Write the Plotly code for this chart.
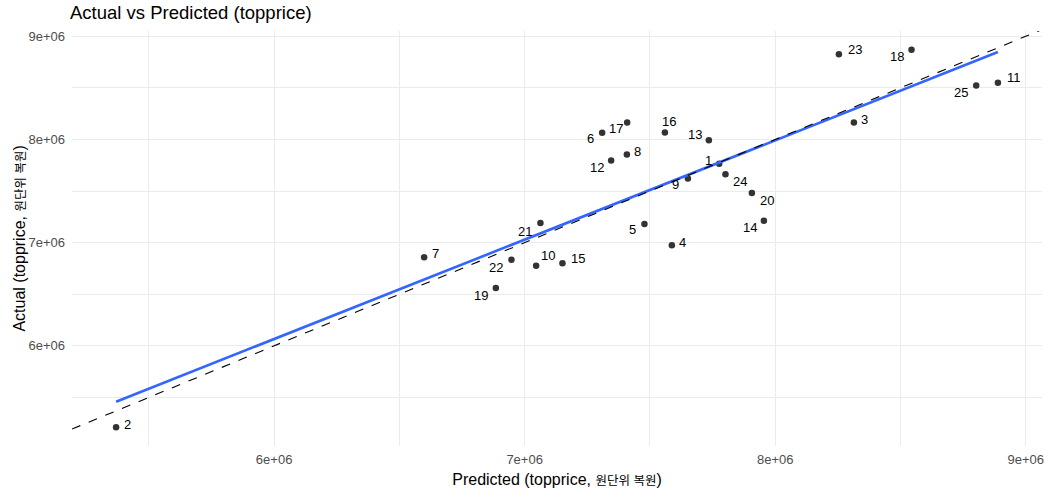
import numpy as np
import plotly.graph_objects as go

# Observation ids and their predicted / actual topprice values
ids = list(range(1, 26))
predicted = [7776500, 5369300, 8314200, 7587600, 7478200, 7309400, 6598800, 7408000,
             7651500, 7045900, 8889000, 7345300, 7735300, 7954900, 7150900, 7559700,
             7409200, 8544100, 6885000, 7907000, 7063100, 6947300, 8254300, 7801600,
             8802400]
actual = [7764800, 5212000, 8164600, 6973800, 7180000, 8064900, 6857600, 7854800,
          7622400, 6777300, 8548900, 7796700, 7993200, 7212900, 6799600, 8067800,
          8164600, 8868400, 6560400, 7480100, 7189700, 6835400, 8825800, 7664100,
          8522800]

# Tick values and labels
tick_vals = [6e6, 7e6, 8e6, 9e6]
tick_text = ["6e+06", "7e+06", "8e+06", "9e+06"]

# Label nudges (pixels) for each id, keeps text clear of points
label_nudge = {
    1: (-11, -3), 2: (11, -3), 3: (11, -3), 4: (11, -3), 5: (-12, 5),
    6: (-12, 6), 7: (11, -4), 8: (11, -3), 9: (-12, 6), 10: (12, -10),
    11: (16, -5), 12: (-14, 7), 13: (-14, -6), 14: (-14, 7), 15: (16, -5),
    16: (4, -11), 17: (-11, 6), 18: (-15, 7), 19: (-15, 7), 20: (15, 7),
    21: (-15, 8), 22: (-15, 8), 23: (16, -5), 24: (15, 7), 25: (-15, 7),
}

px_ = np.array(predicted, dtype=float)
ay_ = np.array(actual, dtype=float)

# ggplot-style 5% expansion of the data ranges
def expand(v, f=0.05):
    lo, hi = v.min(), v.max()
    d = (hi - lo) * f
    return [lo - d, hi + d]

xr = expand(px_)
yr = expand(ay_)

# Linear fit of actual on predicted
slope, intercept = np.polyfit(px_, ay_, 1)
fit_x = np.array([px_.min(), px_.max()])
fit_y = slope * fit_x + intercept

font_family = "Liberation Sans, Arial, Noto Sans CJK KR, sans-serif"
grid_col = "#EBEBEB"

W, H = 1053, 494
M_L, M_R, M_T, M_B = 72, 9, 31, 47
panel_w = W - M_L - M_R

fig = go.Figure()

fig.add_trace(go.Scatter(
    x=px_, y=ay_, mode="markers",
    marker=dict(size=6.5, color="#333333"),
    hoverinfo="skip", showlegend=False,
))

fig.add_trace(go.Scatter(
    x=fit_x, y=fit_y, mode="lines",
    line=dict(color="#3366FF", width=2.6),
    hoverinfo="skip", showlegend=False,
))

# Identity line y = x across the panel
fig.add_trace(go.Scatter(
    x=[xr[0], xr[1]], y=[xr[0], xr[1]], mode="lines",
    line=dict(color="black", width=1.1, dash="dash"),
    hoverinfo="skip", showlegend=False,
))

for i, xv, yv in zip(ids, predicted, actual):
    dx, dy = label_nudge[i]
    fig.add_annotation(
        x=xv, y=yv, xref="x", yref="y", text=str(i), showarrow=False,
        xshift=dx, yshift=-dy,
        font=dict(family=font_family, size=13, color="black"),
    )

# Y-axis title, rotated, placed at the left edge
fig.add_annotation(
    text="Actual (topprice, <span style='font-size:12.5px'>원단위 복원</span>)",
    xref="paper", yref="paper", x=-(M_L - 19) / panel_w, y=0.5,
    xanchor="center", yanchor="middle", textangle=-90, showarrow=False,
    font=dict(family=font_family, size=16, color="black"),
)

axis_common = dict(
    showgrid=True, gridcolor=grid_col, gridwidth=1.1,
    zeroline=False, showline=False, ticks="",
    tickmode="array", tickvals=tick_vals, ticktext=tick_text,
    tickfont=dict(family=font_family, size=13, color="#4D4D4D"),
    minor=dict(dtick=500000, tick0=0, showgrid=True, gridcolor=grid_col, gridwidth=0.6),
)

fig.update_layout(
    width=W, height=H,
    margin=dict(l=M_L, r=M_R, t=M_T, b=M_B),
    paper_bgcolor="white", plot_bgcolor="white",
    title=dict(
        text="Actual vs Predicted (topprice)",
        x=70 / W, xref="container", xanchor="left",
        y=1 - 13 / H, yref="container", yanchor="middle",
        font=dict(family=font_family, size=18.5, color="black"),
    ),
    xaxis=dict(
        range=xr, **axis_common,
        ticklabelstandoff=4,
        title=dict(
            text="Predicted (topprice, <span style='font-size:12.5px'>원단위 복원</span>)",
            font=dict(family=font_family, size=16, color="black"),
            standoff=7,
        ),
    ),
    yaxis=dict(
        range=yr, **axis_common,
        ticklabelstandoff=6,
    ),
)

fig.write_html("out.html")
